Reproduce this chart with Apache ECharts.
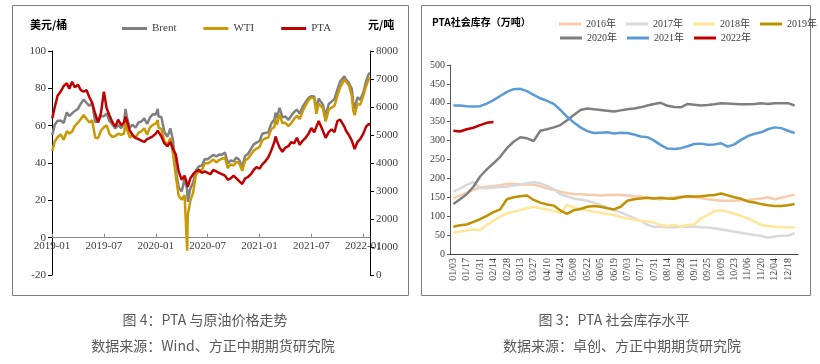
<!DOCTYPE html>
<html><head><meta charset="utf-8">
<script src="https://cdn.jsdelivr.net/npm/echarts@6/dist/echarts.min.js"></script>
<style>html,body{margin:0;padding:0;background:#fff}#c{width:820px;height:364px}</style>
</head><body><div id="c"></div>
<script>
// ---- Left chart: crude oil (USD/bbl) and PTA (CNY/t) ----
const oilDates = ['2019-01-02','2019-01-11','2019-01-21','2019-02-01','2019-02-11','2019-02-21','2019-03-01','2019-03-11','2019-03-21','2019-04-01','2019-04-11','2019-04-21','2019-05-01','2019-05-11','2019-05-21','2019-06-01','2019-06-11','2019-06-21','2019-07-01','2019-07-11','2019-07-21','2019-08-01','2019-08-11','2019-08-21','2019-09-01','2019-09-11','2019-09-16','2019-09-21','2019-10-01','2019-10-11','2019-10-21','2019-11-01','2019-11-11','2019-11-21','2019-12-01','2019-12-11','2019-12-21',
'2020-01-01','2020-01-08','2020-01-11','2020-01-21','2020-02-01','2020-02-11','2020-02-21','2020-03-01','2020-03-11','2020-03-21','2020-04-01','2020-04-11','2020-04-20','2020-04-22','2020-05-01','2020-05-11','2020-05-21','2020-06-01','2020-06-11','2020-06-21','2020-07-01','2020-07-11','2020-07-21','2020-08-01','2020-08-11','2020-08-21','2020-09-01','2020-09-11','2020-09-21','2020-10-01','2020-10-11','2020-10-21','2020-11-01','2020-11-11','2020-11-21','2020-12-01','2020-12-11','2020-12-21',
'2021-01-01','2021-01-11','2021-01-21','2021-02-01','2021-02-11','2021-02-21','2021-02-25','2021-03-01','2021-03-11','2021-03-21','2021-04-01','2021-04-11','2021-04-21','2021-05-01','2021-05-11','2021-05-21','2021-06-01','2021-06-11','2021-06-21','2021-07-01','2021-07-11','2021-07-19','2021-07-27','2021-08-11','2021-08-21','2021-09-01','2021-09-11','2021-09-21','2021-10-01','2021-10-11','2021-10-26','2021-11-01','2021-11-11','2021-11-21','2021-11-26','2021-12-01','2021-12-11','2021-12-21',
'2022-01-01','2022-01-11','2022-01-21','2022-01-25'];
const brent = [55,60.5,62.7,62.7,61.5,67.1,65.1,66.6,67.9,69.0,71.8,74.0,72.2,70.6,72.2,61.9,62.3,65.2,65.1,66.5,62.5,60.5,58.5,60.3,58.7,61.5,69.0,64.3,59.0,60.5,58.9,61.7,62.2,63.9,60.9,64.3,66.1,
66.0,69.0,64.9,64.6,56.6,54.0,58.5,51.9,35.8,27.0,24.7,31.5,25.6,19.3,26.4,29.6,36.0,38.3,38.6,42.2,42.0,43.2,44.3,43.5,44.5,44.4,45.6,39.8,41.4,40.9,42.9,41.7,37.9,43.8,44.9,47.4,50.0,50.9,
51.8,55.7,56.1,56.4,61.1,63.3,67.0,64.0,69.6,64.5,64.9,63.0,65.3,67.3,68.6,66.4,70.3,72.7,74.9,75.8,75.6,68.6,74.5,71.4,65.2,71.6,72.9,74.4,79.3,83.6,86.4,84.7,82.9,79.7,72.7,69.0,75.2,73.9,
77.8,83.7,87.9,88.2];
const wti = [46.5,51.6,53.8,55.3,52.4,57.0,55.8,56.8,59.9,61.6,63.6,65.7,63.6,61.7,62.9,53.5,53.3,57.4,59.1,60.2,55.6,53.9,54.5,55.7,55.1,55.8,62.9,58.1,53.6,54.7,53.3,56.2,56.9,58.6,55.2,59.0,60.4,
61.1,63.0,59.0,58.3,51.6,49.9,53.4,44.8,32.9,22.4,20.3,22.8,-7.0,12.0,19.8,24.1,33.9,35.4,36.3,39.8,39.8,40.6,41.9,40.3,41.6,42.3,42.8,37.3,39.3,38.7,40.6,40.0,35.8,41.4,42.4,44.6,46.6,47.7,
48.5,52.2,53.1,53.6,58.2,59.2,63.5,60.6,66.0,61.4,61.5,59.7,61.4,63.6,65.3,63.6,67.7,70.9,73.7,75.2,74.6,66.4,71.9,69.3,62.3,68.6,69.7,70.6,75.9,80.5,84.7,84.0,81.6,76.1,68.2,65.6,71.7,71.1,
76.1,81.2,85.1,85.6];
const pta = [5600,6000,6400,6550,6750,6850,6650,6900,6700,6800,6600,6550,6600,6350,6150,5750,5450,5800,6550,5950,5700,5450,5300,5550,5350,5450,5650,5500,5150,5000,4900,4850,4800,4750,4850,4900,4950,
5050,5150,5100,4950,4700,4600,4750,4500,4300,3700,3400,3550,3250,3150,3450,3600,3700,3750,3650,3700,3650,3600,3750,3700,3650,3600,3550,3400,3450,3550,3450,3350,3250,3450,3500,3600,3750,3850,
3800,3950,4050,4200,4450,4750,4950,4800,4550,4400,4550,4600,4750,4700,4900,4650,4800,4900,5050,5250,5100,5300,5500,5150,4900,5100,5200,5100,5500,5550,5300,5150,5000,4800,4650,4500,4750,4850,
5050,5300,5400,5350];
const oilTicks = ['2019-01','2019-07','2020-01','2020-07','2021-01','2021-07','2022-01'];

// ---- Right chart: PTA social inventory (10k t) ----
const weeks = ['01/03','01/10','01/17','01/24','01/31','02/07','02/14','02/21','02/28','03/06','03/13','03/20','03/27','04/03','04/10','04/17','04/24','05/01','05/08','05/15','05/22','05/29','06/05','06/12','06/19','06/26','07/03','07/10','07/17','07/24','07/31','08/07','08/14','08/21','08/28','09/04','09/11','09/18','09/25','10/02','10/09','10/16','10/23','10/30','11/06','11/13','11/20','11/27','12/04','12/11','12/18','12/25'];
const inv2016 = [147,155,162,170,176,178,180,182,185,185,184,184,183,179,174,170,165,161,159,158,157,156,155,156,157,156,155,153,152,149,146,145,148,150,152,151,150,148,145,143,141,141,141,142,143,145,147,150,145,149,153,157];
const inv2017 = [165,173,183,190,174,174,175,177,178,181,184,187,190,187,180,171,158,152,147,144,141,136,130,123,116,110,103,95,88,77,72,72,71,71,72,72,72,71,70,68,65,62,59,56,53,50,48,43,46,48,49,55];
const inv2018 = [56,59,62,65,63,77,88,99,108,112,116,121,125,121,118,114,108,130,123,119,116,112,109,106,103,98,94,91,88,86,83,77,74,77,72,77,78,94,103,114,116,112,106,101,94,86,77,74,72,71,70,71];
const inv2019 = [72,76,78,85,92,101,111,118,145,150,153,155,143,136,131,128,115,106,116,119,125,127,125,121,118,125,141,145,147,149,147,149,147,146,150,153,152,153,155,156,160,155,150,146,139,136,132,129,127,127,129,132];
const inv2020 = [132,145,158,178,205,224,240,257,280,297,309,306,299,326,330,335,341,354,368,381,385,383,381,379,377,380,383,385,388,393,397,400,392,389,388,397,395,393,394,396,399,398,397,396,396,397,399,397,399,399,399,393];
const inv2021 = [393,393,391,390,391,398,407,418,429,436,437,431,421,412,405,397,381,363,348,335,325,320,321,322,319,321,320,316,311,309,300,288,279,278,280,285,291,292,289,290,293,284,290,302,312,318,322,330,335,333,326,320];
const inv2022 = [326,324,330,334,341,347,349];
const invYears = ['2016年','2017年','2018年','2019年','2020年','2021年','2022年'];

function monthPos(s){
  const p = s.split('-').map(Number);
  const y = p[0], m = p[1], d = p.length > 2 ? p[2] : 1;
  const dim = new Date(y, m, 0).getDate();
  return (y - 2019) * 12 + (m - 1) + (d - 1) / dim;
}
const tickPos = oilTicks.map(t => monthPos(t));
const pair = arr => oilDates.map((d, i) => [monthPos(d), arr[i]]);

const SERIF = '"Liberation Serif","Times New Roman","Noto Sans CJK SC",serif';
const CJK = '"Noto Sans CJK SC","Liberation Serif",sans-serif';
const chart = echarts.init(document.getElementById('c'), null, {renderer: 'canvas'});

const invColors = ['#F8CBAD','#D9D9D9','#FFE699','#BF9000','#7F7F7F','#5B9BD5','#C00000'];
const invData = [inv2016, inv2017, inv2018, inv2019, inv2020, inv2021, inv2022];

// left grid geometry: top 51, height 224, y range -20..100 -> zero line offset from bottom
const LG_TOP = 51, LG_H = 224, LY_MIN = -20, LY_MAX = 100;
const zeroOffset = -LG_H * (0 - LY_MIN) / (LY_MAX - LY_MIN);

const option = {
  animation: false,
  backgroundColor: '#fff',
  grid: [
    {left: 52, right: 450, top: LG_TOP, height: LG_H, containLabel: false},
    {left: 450, right: 22, top: 65, bottom: 110, containLabel: false}
  ],
  legend: [
    {data: ['Brent','WTI','PTA'], left: 117, top: 18, icon: 'rect', itemWidth: 25, itemHeight: 3, itemGap: 27, itemTextGap: 3,
     textStyle: {fontFamily: SERIF, fontSize: 11, color: '#404040'}},
    {data: invYears.slice(0,4), left: 554, top: 14, width: 262, icon: 'rect', itemWidth: 22, itemHeight: 3, itemGap: 10, itemTextGap: 3,
     textStyle: {fontFamily: SERIF, fontSize: 10, color: '#404040'}},
    {data: invYears.slice(4), left: 555, top: 28, width: 262, icon: 'rect', itemWidth: 22, itemHeight: 3, itemGap: 10, itemTextGap: 3,
     textStyle: {fontFamily: SERIF, fontSize: 10, color: '#404040'}}
  ],
  xAxis: [
    {type: 'value', gridIndex: 0, min: 0, max: monthPos('2022-01-25'), position: 'bottom', offset: zeroOffset,
     axisLine: {onZero: false, lineStyle: {color: '#8c8c8c', width: 1}},
     axisTick: {show: true, inside: true, length: 4, customValues: tickPos, lineStyle: {color: '#8c8c8c'}},
     axisLabel: {customValues: tickPos, margin: 3, fontFamily: SERIF, fontSize: 11, color: '#404040',
       formatter: v => { const i = tickPos.findIndex(t => Math.abs(t - v) < 1e-6); return i >= 0 ? oilTicks[i] : ''; }},
     splitLine: {show: false}},
    {type: 'category', gridIndex: 1, data: weeks, boundaryGap: true,
     axisLine: {lineStyle: {color: '#404040'}},
     axisTick: {interval: 1, length: 3, lineStyle: {color: '#404040'}},
     axisLabel: {interval: 1, rotate: 90, margin: 4, fontFamily: SERIF, fontSize: 10, color: '#404040'},
     splitLine: {show: false}}
  ],
  yAxis: [
    {type: 'value', gridIndex: 0, min: LY_MIN, max: LY_MAX, interval: 20,
     axisLine: {show: true, onZero: false, lineStyle: {color: '#000'}},
     axisTick: {show: true, length: 4, lineStyle: {color: '#000'}},
     axisLabel: {fontFamily: SERIF, fontSize: 11, color: '#404040', margin: 6, formatter: v => String(v)},
     splitLine: {show: false}},
    {type: 'value', gridIndex: 0, min: 0, max: 8000, interval: 1000, position: 'right',
     axisLine: {show: true, onZero: false, lineStyle: {color: '#000'}},
     axisTick: {show: true, length: 4, lineStyle: {color: '#000'}},
     axisLabel: {fontFamily: SERIF, fontSize: 11, color: '#404040', margin: 6, formatter: v => String(v)},
     splitLine: {show: false}},
    {type: 'value', gridIndex: 1, min: 0, max: 500, interval: 50,
     axisLine: {show: true, lineStyle: {color: '#595959'}},
     axisTick: {show: true, length: 3, lineStyle: {color: '#595959'}},
     axisLabel: {fontFamily: SERIF, fontSize: 10, color: '#404040', margin: 5, formatter: v => String(v)},
     splitLine: {show: false}}
  ],
  series: [
    {name: 'Brent', type: 'line', xAxisIndex: 0, yAxisIndex: 0, data: pair(brent), showSymbol: false,
     lineStyle: {color: '#808080', width: 2.5}, itemStyle: {color: '#808080'}},
    {name: 'WTI', type: 'line', xAxisIndex: 0, yAxisIndex: 0, data: pair(wti), showSymbol: false,
     lineStyle: {color: '#C99A06', width: 2.5}, itemStyle: {color: '#C99A06'}},
    {name: 'PTA', type: 'line', xAxisIndex: 0, yAxisIndex: 1, data: pair(pta), showSymbol: false,
     lineStyle: {color: '#C00000', width: 2.5}, itemStyle: {color: '#C00000'}}
  ].concat(invYears.map((n, k) => ({
     name: n, type: 'line', xAxisIndex: 1, yAxisIndex: 2, data: invData[k], showSymbol: false,
     lineStyle: {color: invColors[k], width: 2.5}, itemStyle: {color: invColors[k]}, z: 2 + k
  }))),
  graphic: [
    {type: 'rect', shape: {x: 12.5, y: 5.5, width: 396, height: 290}, style: {fill: 'none', stroke: '#7f7f7f', lineWidth: 1}, silent: true},
    {type: 'rect', shape: {x: 421.5, y: 5.5, width: 389, height: 290}, style: {fill: 'none', stroke: '#7f7f7f', lineWidth: 1}, silent: true},
    {type: 'text', left: 30, top: 19, style: {text: '美元/桶', font: 'bold 11px ' + CJK, fill: '#000'}},
    {type: 'text', left: 368, top: 19, style: {text: '元/吨', font: 'bold 11px ' + CJK, fill: '#000'}},
    {type: 'text', left: 432, top: 17, style: {text: 'PTA社会库存（万吨）', font: 'bold 10px ' + CJK, fill: '#000'}},
    {type: 'text', x: 205, y: 320, style: {text: '图 4：PTA 与原油价格走势', font: '14px ' + CJK, fill: '#595959', align: 'center', verticalAlign: 'middle'}},
    {type: 'text', x: 213, y: 346, style: {text: '数据来源：Wind、方正中期期货研究院', font: '14px ' + CJK, fill: '#595959', align: 'center', verticalAlign: 'middle'}},
    {type: 'text', x: 614, y: 320, style: {text: '图 3：PTA 社会库存水平', font: '14px ' + CJK, fill: '#595959', align: 'center', verticalAlign: 'middle'}},
    {type: 'text', x: 622, y: 346, style: {text: '数据来源：卓创、方正中期期货研究院', font: '14px ' + CJK, fill: '#595959', align: 'center', verticalAlign: 'middle'}}
  ]
};
chart.setOption(option);
</script>
</body></html>
